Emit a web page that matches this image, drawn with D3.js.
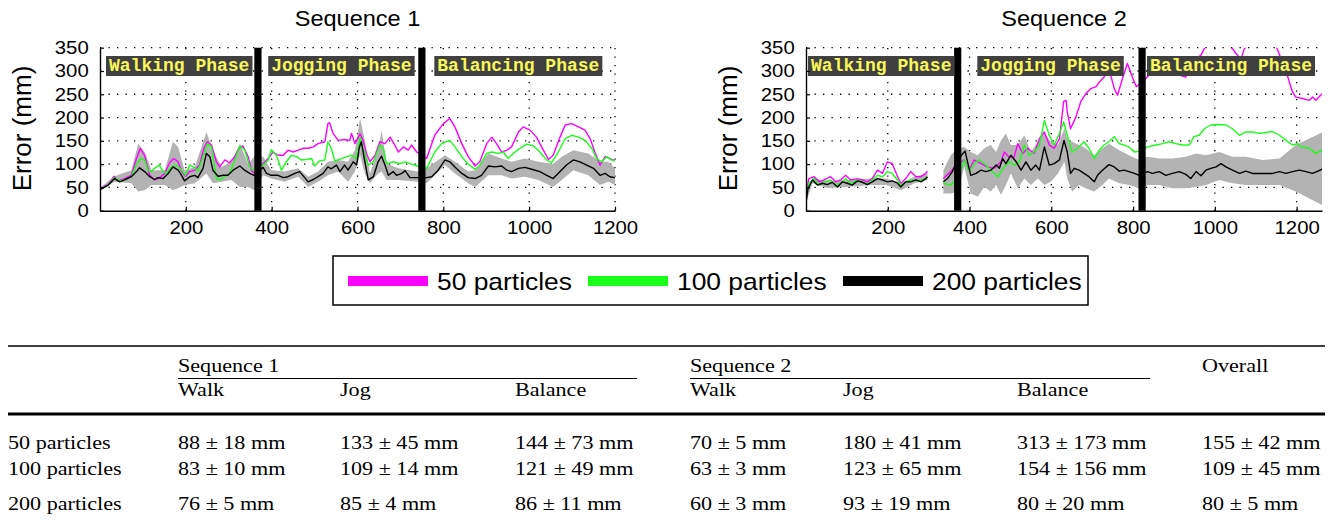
<!DOCTYPE html>
<html>
<head>
<meta charset="utf-8">
<script src="https://cdn.jsdelivr.net/npm/d3@7"></script>
<style>
  body { margin: 0; background: #fff; }
</style>
</head>
<body>
<svg id="chart" width="1333" height="522"></svg>
<script>
// ---- data ----
var sequenceTitles = ['Sequence 1', 'Sequence 2'];
var phaseNames = ['Walking Phase', 'Jogging Phase', 'Balancing Phase'];
var seriesNames = ['50 particles', '100 particles', '200 particles'];
var yTicks = [0, 50, 100, 150, 200, 250, 300, 350];
var xTicks = [200, 400, 600, 800, 1000, 1200];
var seq1XMax = 1200;
var seq2XMax = 1262;
// frame where each phase ends (black separators)
var seq1PhaseEnds = [368, 750];
var seq2PhaseEnds = [371, 822];

// [frame, error mm]
var seq1P50 = [[1,48],[19,56],[33,74],[42,64],[57,69],[73,76],[85,112],[94,134],[104,119],[116,76],[127,66],[139,71],[151,80],[162,103],[172,112],[182,105],[190,84],[199,74],[209,84],[221,87],[232,98],[242,134],[250,148],[260,141],[271,105],[279,94],[291,109],[302,103],[314,116],[326,137],[333,139],[345,116],[353,87],[359,81],[380,101],[392,112],[403,126],[415,119],[427,119],[438,130],[450,126],[462,130],[473,134],[485,134],[497,137],[508,144],[524,148],[531,187],[535,189],[543,166],[555,151],[570,153],[582,151],[586,166],[594,144],[606,165],[613,151],[621,123],[629,105],[641,119],[652,148],[664,144],[676,158],[687,141],[695,126],[707,137],[718,130],[726,141],[738,126],[761,112],[780,162],[800,187],[815,198],[827,180],[843,144],[858,116],[874,96],[885,105],[901,144],[913,158],[924,144],[936,126],[948,130],[959,137],[975,169],[986,180],[1002,173],[1017,158],[1033,130],[1045,110],[1056,119],[1072,158],[1084,184],[1099,187],[1115,180],[1130,173],[1142,155],[1153,126],[1165,98],[1177,116],[1188,112],[1200,107]];
var seq1P100 = [[1,46],[19,55],[33,71],[46,64],[61,67],[73,73],[85,101],[95,112],[104,109],[112,87],[120,84],[127,91],[138,98],[147,84],[155,81],[166,94],[178,98],[190,87],[199,76],[209,98],[221,93],[228,84],[240,116],[250,144],[260,137],[271,69],[281,66],[291,74],[302,80],[314,109],[326,139],[337,131],[349,94],[357,87],[380,98],[392,109],[399,131],[411,119],[423,87],[434,105],[446,119],[458,116],[469,109],[481,110],[493,112],[500,96],[512,107],[524,109],[531,148],[539,134],[547,107],[563,112],[574,116],[586,119],[598,112],[606,158],[613,134],[625,98],[637,105],[652,141],[660,134],[668,101],[683,105],[699,101],[711,105],[726,100],[740,96],[761,91],[780,126],[796,144],[815,151],[827,137],[843,116],[858,100],[874,89],[885,98],[901,123],[913,126],[928,123],[940,126],[951,112],[963,123],[979,134],[994,143],[1010,139],[1025,126],[1041,109],[1052,103],[1068,126],[1084,155],[1099,162],[1115,158],[1130,151],[1146,134],[1157,112],[1169,105],[1181,116],[1192,109],[1200,107]];
var seq1P200 = [[1,46],[19,55],[34,69],[46,62],[57,66],[73,73],[85,84],[92,92],[104,84],[116,73],[127,67],[135,71],[147,69],[159,80],[170,94],[182,87],[190,76],[197,64],[209,73],[221,76],[228,71],[240,91],[248,123],[256,116],[263,87],[275,74],[287,76],[298,76],[310,87],[326,96],[337,87],[349,80],[359,76],[380,93],[388,80],[399,76],[415,76],[427,71],[438,73],[454,80],[465,84],[477,71],[485,62],[497,67],[508,73],[520,80],[531,94],[539,90],[551,98],[559,84],[570,98],[578,87],[590,105],[598,98],[604,135],[609,148],[615,116],[625,66],[637,73],[648,105],[656,117],[664,98],[672,76],[683,84],[691,76],[703,80],[711,86],[722,71],[734,71],[740,71],[761,71],[773,73],[788,87],[804,109],[815,105],[827,94],[843,80],[858,71],[874,69],[889,76],[905,96],[920,94],[936,96],[948,87],[959,84],[975,91],[990,93],[1006,89],[1025,84],[1041,76],[1056,69],[1072,84],[1087,98],[1103,109],[1118,105],[1134,98],[1150,91],[1165,76],[1177,80],[1188,73],[1200,71]];
// [frame, low, high] spread of the 200 particle runs
var seq1Band = [[1,44,50],[34,62,74],[73,59,87],[89,41,144],[104,44,126],[120,55,87],[151,55,87],[170,44,148],[182,48,137],[197,55,87],[221,59,94],[248,80,169],[263,59,130],[283,62,94],[306,66,105],[326,51,144],[345,51,101],[359,44,116],[380,76,116],[399,69,87],[430,62,84],[462,73,91],[485,51,73],[508,62,84],[531,76,105],[555,84,109],[578,62,105],[594,84,130],[606,120,198],[617,80,151],[629,59,80],[648,80,130],[656,84,173],[668,66,101],[695,66,91],[740,62,84],[761,59,91],[804,98,119],[827,80,105],[858,59,84],[874,51,87],[905,76,123],[936,76,112],[959,69,105],[990,73,112],[1021,66,105],[1056,51,101],[1076,66,116],[1103,87,130],[1138,76,123],[1165,55,105],[1184,62,105],[1200,55,91]];

var seq2P50 = [[1,41],[7,69],[20,73],[32,62],[44,66],[60,73],[73,62],[85,66],[97,76],[109,66],[126,69],[138,66],[150,62],[162,69],[175,87],[187,80],[199,105],[211,101],[224,73],[232,59],[244,69],[256,84],[269,73],[281,73],[293,80],[297,85],[315,null],[336,69],[354,84],[367,98],[387,109],[399,87],[411,109],[428,101],[444,94],[460,91],[477,105],[485,126],[497,115],[509,115],[518,144],[530,123],[542,134],[558,123],[571,155],[583,169],[595,141],[607,134],[620,155],[630,234],[636,237],[639,212],[647,176],[660,201],[672,234],[684,251],[696,262],[709,266],[717,276],[729,287],[741,305],[754,262],[762,248],[774,284],[786,316],[798,287],[808,266],[831,284],[847,298],[864,305],[880,309],[896,312],[913,291],[929,287],[941,312],[954,326],[966,334],[978,355],[994,370],[1011,385],[1027,370],[1035,355],[1043,348],[1052,337],[1064,326],[1072,348],[1080,355],[1100,370],[1117,390],[1133,375],[1149,355],[1162,326],[1174,301],[1182,276],[1190,255],[1198,244],[1215,241],[1231,237],[1239,244],[1247,237],[1262,251]];
var seq2P100 = [[1,34],[7,59],[20,69],[32,55],[44,62],[60,66],[73,55],[85,59],[97,69],[109,59],[126,66],[138,62],[150,56],[162,66],[175,76],[187,73],[199,84],[211,80],[224,66],[232,55],[244,62],[256,66],[269,64],[281,66],[293,69],[297,71],[315,null],[336,59],[354,55],[371,69],[387,109],[399,84],[411,101],[424,109],[440,98],[452,87],[469,73],[485,94],[497,105],[509,98],[522,105],[534,141],[546,119],[558,126],[571,141],[583,194],[595,162],[607,141],[620,166],[630,191],[639,162],[651,126],[664,134],[680,148],[692,134],[705,112],[717,130],[729,141],[741,148],[754,159],[766,144],[778,141],[790,137],[803,126],[815,128],[835,137],[856,141],[872,144],[888,148],[905,144],[921,141],[937,141],[949,159],[962,162],[974,176],[990,184],[1007,185],[1027,184],[1043,176],[1060,162],[1076,169],[1092,169],[1109,166],[1125,168],[1141,170],[1158,162],[1174,151],[1190,141],[1203,144],[1211,137],[1231,134],[1247,123],[1262,130]];
var seq2P200 = [[1,23],[5,48],[16,66],[28,55],[40,59],[52,56],[64,61],[77,51],[89,62],[101,59],[113,55],[126,64],[138,61],[150,56],[162,62],[175,69],[187,66],[199,62],[211,64],[224,59],[232,51],[244,62],[256,62],[269,66],[281,62],[293,69],[297,73],[315,null],[336,62],[346,69],[358,84],[367,101],[380,119],[389,128],[397,98],[403,76],[416,80],[428,87],[440,84],[452,87],[465,98],[473,91],[481,112],[489,101],[501,119],[514,105],[526,87],[538,105],[550,87],[562,98],[571,87],[583,137],[595,98],[607,101],[620,109],[631,151],[639,126],[647,80],[656,91],[668,87],[680,80],[692,73],[705,62],[713,76],[725,87],[741,99],[754,94],[766,85],[778,87],[790,84],[803,80],[815,76],[835,84],[847,80],[864,84],[880,76],[896,80],[913,84],[929,78],[941,69],[954,84],[966,75],[978,87],[990,91],[1003,94],[1015,101],[1027,94],[1043,87],[1060,80],[1076,85],[1092,80],[1109,80],[1125,80],[1141,80],[1158,84],[1174,80],[1190,84],[1207,87],[1223,84],[1239,80],[1252,85],[1262,89]];
var seq2Band = [[1,19,34],[16,59,71],[52,49,64],[101,51,66],[158,55,69],[199,55,69],[232,44,59],[265,59,73],[297,66,80],[315,null,null],[336,37,87],[354,37,119],[371,41,134],[387,94,137],[403,37,126],[420,30,119],[436,51,134],[452,41,141],[465,55,126],[477,34,151],[489,55,166],[501,80,141],[518,48,141],[534,69,162],[550,55,126],[567,69,148],[583,55,166],[599,62,148],[616,80,141],[632,105,176],[639,69,155],[651,41,148],[668,55,141],[684,48,134],[705,41,119],[725,55,134],[741,69,144],[766,59,130],[790,55,119],[815,48,109],[835,55,116],[864,55,112],[896,48,112],[929,48,116],[954,51,123],[978,55,119],[1011,66,126],[1043,59,116],[1076,55,116],[1117,55,109],[1158,55,112],[1198,41,141],[1231,26,155],[1262,12,168]];

// table: mean / std per phase, rows = 50, 100, 200 particles
var tableCols = ['Walk', 'Jog', 'Balance'];
var walk1Mean = [88, 83, 76],    walk1Std = [18, 10, 5];
var jog1Mean = [133, 109, 85],   jog1Std = [45, 14, 4];
var bal1Mean = [144, 121, 86],   bal1Std = [73, 49, 11];
var walk2Mean = [70, 63, 60],    walk2Std = [5, 3, 3];
var jog2Mean = [180, 123, 93],   jog2Std = [41, 65, 19];
var bal2Mean = [313, 154, 80],   bal2Std = [173, 156, 20];
var overallMean = [155, 109, 80], overallStd = [42, 45, 5];

// ---- drawing ----
var svg = d3.select('#chart');
var colors = ['#ff00ff', '#19ff19', '#000000'];
var sans = 'Liberation Sans, Arial, sans-serif';
var serif = 'Liberation Serif, Times New Roman, serif';

// text that is a bit wider than the font (figure was stretched)
function wideText(parent, x, y, str, size, sx, family, anchor) {
  return parent.append('text')
    .attr('transform', 'translate(' + x + ',' + y + ') scale(' + sx + ',1)')
    .attr('font-family', family)
    .attr('font-size', size)
    .attr('text-anchor', anchor || 'start')
    .attr('fill', '#000')
    .text(str);
}

var plotTop = 47.7, plotBottom = 210.7;
var panels = [
  {title: sequenceTitles[0], left: 100, right: 615, xMax: seq1XMax, ends: seq1PhaseEnds,
   labelAt: [14, 392, 779], lines: [seq1P50, seq1P100, seq1P200], band: seq1Band, yLabelX: 31},
  {title: sequenceTitles[1], left: 806, right: 1322, xMax: seq2XMax, ends: seq2PhaseEnds,
   labelAt: [5, 419, 834], lines: [seq2P50, seq2P100, seq2P200], band: seq2Band, yLabelX: 737}
];

panels.forEach(function(p, i) {
  var x = d3.scaleLinear().domain([0, p.xMax]).range([p.left, p.right]);
  var y = d3.scaleLinear().domain([0, 350]).range([plotBottom, plotTop]);
  var g = svg.append('g');

  g.append('clipPath').attr('id', 'clip' + i)
    .append('rect').attr('x', p.left).attr('y', plotTop)
    .attr('width', p.right - p.left).attr('height', plotBottom - plotTop);

  // dotted grid
  g.selectAll('.hgrid').data(yTicks.filter(function(v) { return v > 0; }))
    .enter().append('line')
      .attr('x1', p.left).attr('x2', p.right)
      .attr('y1', function(d) { return y(d); }).attr('y2', function(d) { return y(d); })
      .attr('stroke', '#000').attr('stroke-width', 1.3).attr('stroke-dasharray', '1.3,7.2');
  g.selectAll('.vgrid').data(xTicks)
    .enter().append('line')
      .attr('x1', function(d) { return x(d); }).attr('x2', function(d) { return x(d); })
      .attr('y1', plotBottom).attr('y2', plotTop)
      .attr('stroke', '#000').attr('stroke-width', 1.3).attr('stroke-dasharray', '1.3,7.2');

  var plot = g.append('g').attr('clip-path', 'url(#clip' + i + ')');

  var area = d3.area()
    .defined(function(d) { return d[1] != null; })
    .x(function(d) { return x(d[0]); })
    .y0(function(d) { return y(d[1]); })
    .y1(function(d) { return y(d[2]); });
  plot.append('path').datum(p.band).attr('d', area).attr('fill', '#b3b3b3');

  var line = d3.line()
    .defined(function(d) { return d[1] != null; })
    .x(function(d) { return x(d[0]); })
    .y(function(d) { return y(d[1]); });
  p.lines.forEach(function(s, k) {
    plot.append('path').datum(s).attr('d', line)
      .attr('fill', 'none').attr('stroke', colors[k]).attr('stroke-width', 1.4)
      .attr('stroke-linejoin', 'round');
  });

  // phase separators
  g.selectAll('.sep').data(p.ends).enter().append('rect')
    .attr('x', function(d) { return x(d) - 3.6; }).attr('width', 7.2)
    .attr('y', plotTop).attr('height', plotBottom - plotTop).attr('fill', '#000');

  // phase labels
  phaseNames.forEach(function(name, k) {
    var lg = g.append('g');
    var r = lg.append('rect').attr('fill', '#404040');
    var t = lg.append('text')
      .attr('x', x(p.labelAt[k]) + 3).attr('y', 71)
      .attr('font-family', 'Liberation Mono, Courier New, monospace')
      .attr('font-weight', 'bold').attr('font-size', 18)
      .attr('fill', '#f7f75a').text(name);
    var bb = t.node().getBBox();
    r.attr('x', bb.x - 3).attr('width', bb.width + 6).attr('y', 56).attr('height', 20);
  });

  // axes
  var yAxis = d3.axisLeft(y).tickValues(yTicks).tickSizeInner(-4).tickSizeOuter(0).tickPadding(10);
  var ya = g.append('g').attr('transform', 'translate(' + p.left + ',0)').call(yAxis);
  var xAxis = d3.axisBottom(x).tickValues(xTicks).tickFormat(d3.format('d'))
    .tickSizeInner(-4).tickSizeOuter(0).tickPadding(11);
  var xa = g.append('g').attr('transform', 'translate(0,' + plotBottom + ')').call(xAxis);
  [ya, xa].forEach(function(a) {
    a.select('.domain').attr('stroke', '#000').attr('stroke-width', 1.4);
    a.selectAll('.tick line').attr('stroke', '#000').attr('stroke-width', 1.2);
    a.selectAll('.tick text')
      .attr('font-family', sans).attr('font-size', 18).attr('fill', '#000')
      .attr('transform', 'scale(1.13,1)');
  });

  wideText(g, (p.left + p.right) / 2, 26, p.title, 22, 1.07, sans, 'middle');

  g.append('text')
    .attr('transform', 'translate(' + p.yLabelX + ',128.5) rotate(-90)')
    .attr('text-anchor', 'middle')
    .attr('font-family', sans).attr('font-size', 26).attr('fill', '#000')
    .text('Error (mm)');
});

// legend
var legend = svg.append('g');
legend.append('rect').attr('x', 333).attr('y', 256).attr('width', 755).attr('height', 49)
  .attr('fill', '#fff').attr('stroke', '#000').attr('stroke-width', 1.5);
var legendX = [348, 588, 843];
seriesNames.forEach(function(name, k) {
  legend.append('rect').attr('x', legendX[k]).attr('y', 276).attr('width', 80).attr('height', 10)
    .attr('fill', colors[k]);
  wideText(legend, legendX[k] + 89, 290, name, 24, 1.1, sans);
});

// table
var table = svg.append('g');
function rule(x1, x2, yy, w) {
  table.append('line').attr('x1', x1).attr('x2', x2).attr('y1', yy).attr('y2', yy)
    .attr('stroke', '#000').attr('stroke-width', w);
}
rule(8, 1325, 346, 1.6);
rule(8, 1325, 414, 3);
rule(178, 637, 378.5, 1);
rule(690, 1150, 378.5, 1);

var colX = [178, 340, 515, 690, 843, 1017, 1202];
var rowY = [449, 475, 510];
var tsx = 1.23;
wideText(table, colX[0], 371.5, sequenceTitles[0], 18, tsx, serif);
wideText(table, colX[3], 371.5, sequenceTitles[1], 18, tsx, serif);
wideText(table, colX[6], 371.5, 'Overall', 18, tsx, serif);
tableCols.forEach(function(c, k) {
  wideText(table, colX[k], 396, c, 18, tsx, serif);
  wideText(table, colX[k + 3], 396, c, 18, tsx, serif);
});

var means = [walk1Mean, jog1Mean, bal1Mean, walk2Mean, jog2Mean, bal2Mean, overallMean];
var stds = [walk1Std, jog1Std, bal1Std, walk2Std, jog2Std, bal2Std, overallStd];
seriesNames.forEach(function(name, r) {
  wideText(table, 8, rowY[r], name, 18, tsx, serif);
  means.forEach(function(m, c) {
    wideText(table, colX[c], rowY[r], m[r] + ' \u00b1 ' + stds[c][r] + ' mm', 18, tsx, serif);
  });
});
</script>
</body>
</html>
